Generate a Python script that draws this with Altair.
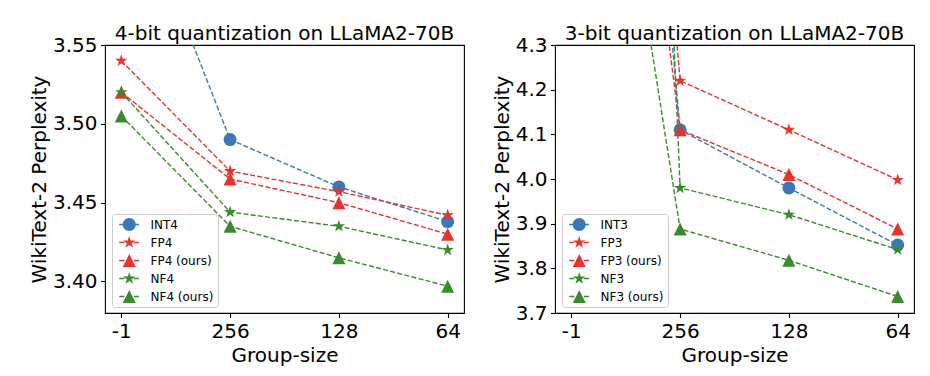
import altair as alt
import pandas as pd

# ---------------- data ----------------
groups = ["-1", "256", "128", "64"]

series4 = ["INT4", "FP4", "FP4 (ours)", "NF4", "NF4 (ours)"]
int4 = [3.667, 3.490, 3.460, 3.438]
fp4 = [3.540, 3.470, 3.457, 3.442]
fp4_ours = [3.520, 3.465, 3.450, 3.430]
nf4 = [3.520, 3.444, 3.435, 3.420]
nf4_ours = [3.505, 3.435, 3.415, 3.397]

series3 = ["INT3", "FP3", "FP3 (ours)", "NF3", "NF3 (ours)"]
int3 = [6.80, 4.110, 3.980, 3.852]
fp3 = [7.10, 4.220, 4.110, 3.998]
fp3_ours = [6.00, 4.110, 4.010, 3.888]
nf3 = [9.80, 3.980, 3.920, 3.842]
nf3_ours = [5.43, 3.888, 3.818, 3.737]

yticks4 = [3.40, 3.45, 3.50, 3.55]
yticks3 = [3.7, 3.8, 3.9, 4.0, 4.1, 4.2, 4.3]

# ---------------- style ----------------
colors = ["#3b78b5", "#e8332b", "#e8332b", "#3b8a2f", "#3b8a2f"]
markers = ["circle", "star", "triangle", "star", "triangle"]

CIRCLE = "M1,0A1,1,0,1,1,-1,0A1,1,0,1,1,1,0Z"
STAR = ("M0,-1L0.2245,-0.309L0.951,-0.309L0.3633,0.118L0.5878,0.809L0,0.382"
        "L-0.5878,0.809L-0.3633,0.118L-0.951,-0.309L-0.2245,-0.309Z")
TRI = "M0,-1L1,1L-1,1Z"
DASHES = " M-1.54,-0.11H-0.75V0.11H-1.54Z M0.71,-0.11H1.49V0.11H0.71Z"
point_paths = {"circle": "circle", "star": STAR, "triangle": TRI}
legend_paths = {"circle": CIRCLE + DASHES, "star": STAR + DASHES, "triangle": TRI + DASHES}

FONT = "DejaVu Sans"
MSIZE = 169
W, H = 359, 268


def panel(title, series, values, ydomain, yticks, yfmt):
    rows = []
    for s, vals in zip(series, values):
        for g, v in zip(groups, vals):
            rows.append({"group": g, "series": s, "value": v})
    df = pd.DataFrame(rows)
    base = alt.Chart(df)

    x = alt.X("group:N", sort=groups,
              scale=alt.Scale(type="point", padding=0.15),
              axis=alt.Axis(title="Group-size", labelAngle=0, titlePadding=4))
    y = alt.Y("value:Q",
              scale=alt.Scale(domain=ydomain, zero=False, nice=False),
              axis=alt.Axis(title="WikiText-2 Perplexity", values=yticks,
                            format=yfmt, titlePadding=3))

    layers = []
    for s, c, m in zip(series, colors, markers):
        sub = base.transform_filter(alt.datum.series == s)
        layers.append(
            sub.mark_line(color=c, strokeDash=[5.1, 2.2], strokeWidth=1.4,
                          clip=True).encode(x=x, y=y))
        layers.append(
            sub.mark_point(shape=point_paths[m], filled=True, color=c,
                           size=MSIZE, opacity=1, strokeWidth=0,
                           clip=True).encode(x=x, y=y))

    leg = alt.Legend(title=None, orient="none", legendX=7, legendY=169,
                     symbolSize=MSIZE, symbolStrokeWidth=0,
                     labelFont=FONT, labelFontSize=12, labelColor="black",
                     padding=4, rowPadding=5, symbolOffset=6.75,
                     labelOffset=14.75, strokeColor="#cccccc",
                     fillColor="white", cornerRadius=3)
    legend_layer = base.transform_filter("false").mark_point(
        filled=True, opacity=1).encode(
        color=alt.Color("series:N", scale=alt.Scale(domain=series, range=colors),
                        legend=leg),
        shape=alt.Shape("series:N",
                        scale=alt.Scale(domain=series,
                                        range=[legend_paths[m] for m in markers]),
                        legend=leg),
    )
    layers.append(legend_layer)
    return alt.layer(*layers).properties(width=W, height=H, title=title)


left = panel("4-bit quantization on LLaMA2-70B", series4,
             [int4, fp4, fp4_ours, nf4, nf4_ours], [3.38, 3.55], yticks4, ".2f")
right = panel("3-bit quantization on LLaMA2-70B", series3,
              [int3, fp3, fp3_ours, nf3, nf3_ours], [3.7, 4.3], yticks3, ".1f")

chart = alt.hconcat(left, right, spacing=26).resolve_scale(
    color="independent", shape="independent"
).resolve_legend(
    color="independent", shape="independent"
).properties(
    padding={"left": 28, "top": 23, "right": 5, "bottom": 5},
    background="white",
).configure_view(
    stroke="black", strokeWidth=1.1
).configure_axis(
    labelFont=FONT, titleFont=FONT, labelFontSize=20, titleFontSize=20,
    titleFontWeight="normal", labelColor="black", titleColor="black",
    tickColor="black", tickSize=4.5, tickWidth=1.1, labelPadding=3.5,
    domain=False, grid=False,
).configure_title(
    font=FONT, fontSize=20, fontWeight="normal", color="black",
    anchor="middle", offset=-9,
)

chart.save("out.html", embed_options={"renderer": "svg", "actions": False})
